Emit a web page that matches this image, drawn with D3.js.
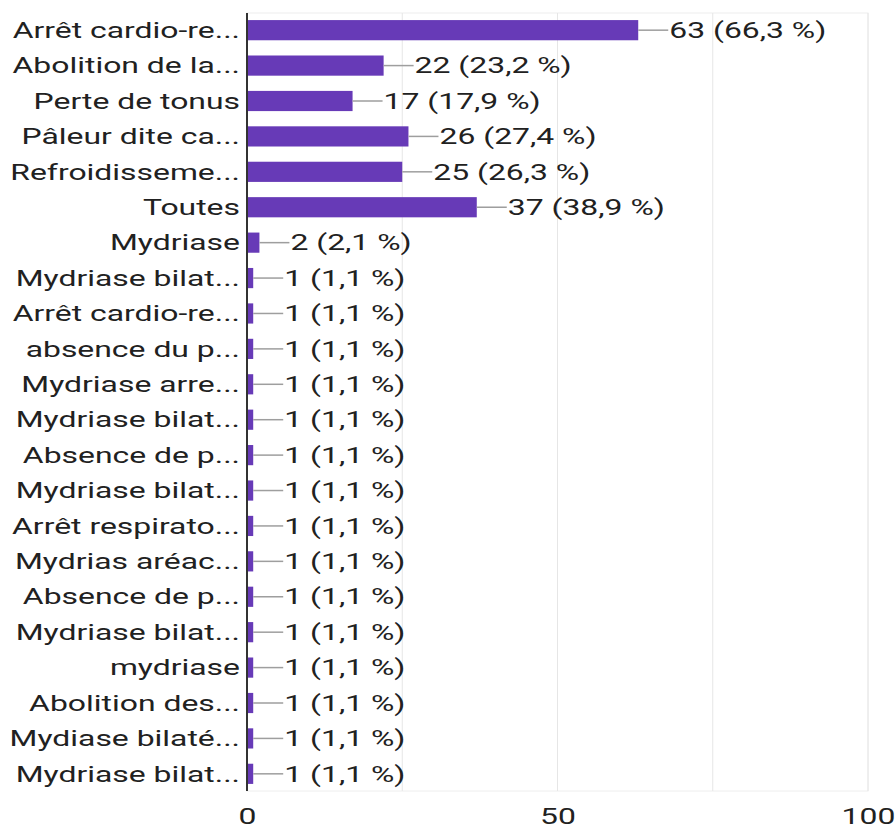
<!DOCTYPE html>
<html lang="fr">
<head>
  <meta charset="utf-8">
  <title>Bar chart</title>
  <script src="https://cdn.jsdelivr.net/npm/d3@7"></script>
  <style type="text/css">
    body { margin: 0; background: #fff; }
    svg text { font-family: Roboto, "Noto Sans", sans-serif; fill: #212121; }
  </style>
</head>
<body>
  <div id="graphic"></div>

  <script>
    // categories and counts (total answers = 95)
    var categories = [
      "Arrêt cardio-re...", "Abolition de la...", "Perte de tonus", "Pâleur dite ca...",
      "Refroidisseme...", "Toutes", "Mydriase", "Mydriase bilat...", "Arrêt cardio-re...",
      "absence du p...", "Mydriase arre...", "Mydriase bilat...", "Absence de p...",
      "Mydriase bilat...", "Arrêt respirato...", "Mydrias aréac...", "Absence de p...",
      "Mydriase bilat...", "mydriase", "Abolition des...", "Mydiase bilaté...", "Mydriase bilat..."
    ];
    var counts = [63, 22, 17, 26, 25, 37, 2, 1, 1, 1, 1, 1, 1, 1, 1, 1, 1, 1, 1, 1, 1, 1];
    var total = 95;
    var gridTicks = [0, 25, 50, 75, 100];
    var axisTicks = [0, 50, 100];

    var width = 896, height = 829;
    var margin = {top: 13, right: 28, bottom: 38, left: 247};
    var stretch = 1.45; // the text in the picture is wide, so widen the glyphs

    var svg = d3.select('#graphic').append('svg')
      .attr('width', width)
      .attr('height', height);

    var g = svg.append('g')
      .attr('transform', 'translate(' + margin.left + ',' + margin.top + ')');

    var w = width - margin.left - margin.right;
    var h = height - margin.top - margin.bottom;

    var x = d3.scaleLinear().domain([0, 100]).range([0, w]);
    var y = d3.scaleBand()
      .domain(d3.range(categories.length))
      .range([0, h])
      .paddingInner(0.43)
      .paddingOuter(0.2);

    // frame and gridlines
    g.append('rect')
      .attr('x', 0).attr('y', 0)
      .attr('width', w).attr('height', h)
      .attr('fill', 'none')
      .attr('stroke', '#eeeeee');

    g.selectAll('.grid')
      .data(gridTicks.slice(1))
      .enter().append('line')
      .attr('class', 'grid')
      .attr('x1', function(d){ return x(d); })
      .attr('x2', function(d){ return x(d); })
      .attr('y1', 0).attr('y2', h)
      .attr('stroke', '#e6e6e6');

    // bars
    g.selectAll('.bar')
      .data(counts)
      .enter().append('rect')
      .attr('class', 'bar')
      .attr('x', 0)
      .attr('y', function(d, i){ return y(i); })
      .attr('width', function(d){ return x(d); })
      .attr('height', y.bandwidth())
      .attr('fill', '#673ab7');

    // leader lines + value labels
    var leader = 30;
    function midY(i){ return y(i) + y.bandwidth() / 2; }

    g.selectAll('.leader')
      .data(counts)
      .enter().append('line')
      .attr('class', 'leader')
      .attr('x1', function(d){ return x(d); })
      .attr('x2', function(d){ return x(d) + leader; })
      .attr('y1', function(d, i){ return midY(i); })
      .attr('y2', function(d, i){ return midY(i); })
      .attr('stroke', '#9e9e9e')
      .attr('stroke-width', 1.5);

    g.selectAll('.value')
      .data(counts)
      .enter().append('text')
      .attr('class', 'value')
      .attr('transform', function(d, i){
        return 'translate(' + (x(d) + leader + 1) + ',' + midY(i) + ') scale(' + stretch + ',1)';
      })
      .attr('dy', '0.35em')
      .style('font-size', '22px')
      .text(function(d){
        return d + ' (' + (d / total * 100).toFixed(1).replace('.', ',') + '\u00a0%)';
      });

    // category labels
    g.selectAll('.cat')
      .data(categories)
      .enter().append('text')
      .attr('class', 'cat')
      .attr('transform', function(d, i){
        return 'translate(-7,' + midY(i) + ') scale(' + stretch + ',1)';
      })
      .attr('dy', '0.35em')
      .attr('text-anchor', 'end')
      .style('font-size', '22px')
      .text(function(d){ return d; });

    // zero axis line
    g.append('line')
      .attr('x1', 0).attr('x2', 0)
      .attr('y1', 0).attr('y2', h)
      .attr('stroke', '#333')
      .attr('stroke-width', 2);

    // bottom tick labels
    var xAxis = d3.axisBottom(x).tickValues(axisTicks).tickSize(0).tickPadding(17);
    var ax = g.append('g')
      .attr('transform', 'translate(0,' + h + ')')
      .call(xAxis);
    ax.select('.domain').remove();
    ax.selectAll('text')
      .attr('transform', 'scale(' + stretch + ',1)')
      .style('font-size', '22px')
      .style('font-family', 'Roboto, sans-serif')
      .attr('fill', '#212121');
  </script>
</body>
</html>
